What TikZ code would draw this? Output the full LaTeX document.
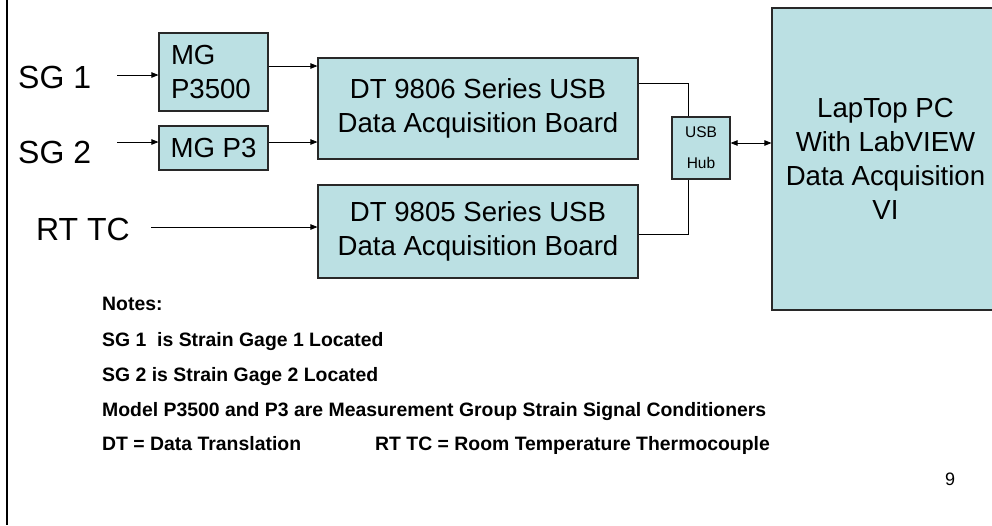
\documentclass[tikz,border=0pt]{standalone}
\usepackage{fontspec}
\setmainfont{Liberation Sans}
\usepackage{xcolor}
\usepackage{tikz}
\usetikzlibrary{arrows.meta}

\definecolor{boxfill}{RGB}{187,224,227}
\definecolor{boxline}{RGB}{40,40,40}

\tikzset{
  blk/.style={draw=boxline, fill=boxfill, line width=1.2pt, inner sep=0pt, align=center},
  big/.style={font=\fontsize{27.6}{34}\selectfont},
  inlabel/.style={anchor=base west, inner sep=0pt, font=\fontsize{32}{38}\selectfont},
  sig/.style={line width=0.8pt, -{Triangle[length=7pt,width=5.5pt]}},
  wire/.style={line width=0.8pt},
  note/.style={anchor=base west, font=\fontsize{19.4}{23}\selectfont\bfseries}
}

\begin{document}
\begin{tikzpicture}[x=1pt, y=-1pt]

\clip (0,0) rectangle (992,525);
\fill[white] (0,0) rectangle (992,525);

\draw[line width=1.3pt] (7,0) -- (7,525);

% input labels
\node[inlabel] (sg1) at (18,88) {SG 1};
\node[inlabel] (sg2) at (18,163) {SG 2};
\node[inlabel] (rttc) at (36,240) {RT TC};

% boxes
\node[blk, big, minimum width=109pt, minimum height=78pt, text width=85pt, align=left] (mg1) at (213.5,72) {MG\\P3500};
\node[blk, big, minimum width=109pt, minimum height=44pt] (mg2) at (213.5,148) {MG P3};
\node[blk, big, minimum width=320pt, minimum height=101pt] (dt6) at (478,108.5) {DT 9806 Series USB\\Data Acquisition Board};
\node[blk, big, minimum width=320pt, minimum height=93pt] (dt5) at (478,231.5) {DT 9805 Series USB\\Data Acquisition Board};
\node[blk, font=\fontsize{15.5}{31}\selectfont, minimum width=58pt, minimum height=62pt] (hub) at (701,148) {USB\\Hub};
\node[blk, big, minimum width=227pt, minimum height=302pt] (pc) at (885.5,159) {LapTop PC\\With LabVIEW\\Data Acquisition\\VI};

% signal paths
\coordinate (sg1in) at (117,75);
\coordinate (sg2in) at (117,142);
\coordinate (rtin) at (151,227);
\draw[sig] (sg1in) -- (sg1in -| mg1.west);
\draw[sig] (sg2in) -- (sg2in -| mg2.west);
\draw[sig] (rtin) -- (rtin -| dt5.west);
\draw[sig] ([yshift=6pt]mg1.east) -- ([yshift=6pt]mg1.east -| dt6.west);
\draw[sig] ([yshift=6pt]mg2.east) -- ([yshift=6pt]mg2.east -| dt6.west);

\draw[wire] ([yshift=25.5pt]dt6.east) -| ([xshift=-13pt]hub.north);
\draw[wire] ([yshift=-2.5pt]dt5.east) -| ([xshift=-13pt]hub.south);
\draw[sig, {Triangle[length=7pt,width=5.5pt]}-{Triangle[length=7pt,width=5.5pt]}] ([yshift=5pt]hub.east) -- ([yshift=5pt]hub.east -| pc.west);

% notes
\foreach \y/\t [count=\i] in {310/Notes:, 346/SG 1~ is Strain Gage 1 Located, 381/SG 2 is Strain Gage 2 Located,
  416/Model P3500 and P3 are Measurement Group Strain Signal Conditioners, 450/DT = Data Translation}{
  \node[note, inner sep=0pt] (note\i) at (102,\y) {\t};
}
\node[note, inner sep=0pt] (note6) at (375,450) {RT TC = Room Temperature Thermocouple};

\node[font=\fontsize{18}{20}\selectfont, inner sep=0pt] (page) at (950,479) {9};

\end{tikzpicture}
\end{document}
